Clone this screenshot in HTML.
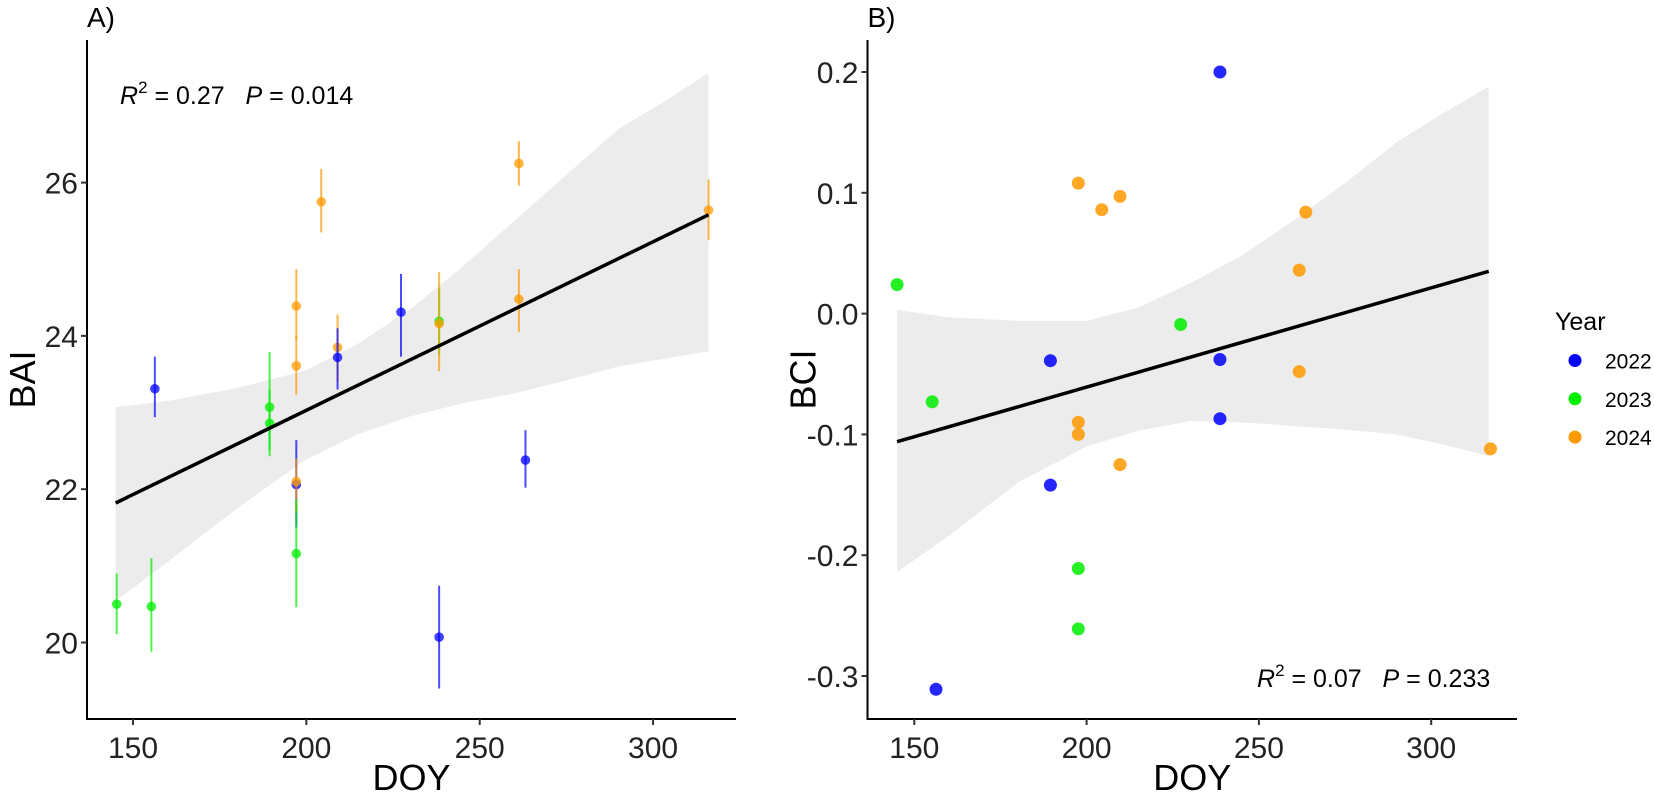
<!DOCTYPE html>
<html><head><meta charset="utf-8"><style>
body{margin:0;background:#fff;}
svg{display:block;font-family:"Liberation Sans",Arial,sans-serif;}
</style></head><body>
<svg id="chart" width="1654" height="795" viewBox="0 0 1654 795"></svg>
<script>
// Panel A data
const aDoy = [145.3,155.3,156.3,189.4,189.4,197.1,197.1,197.1,197.1,197.1,204.3,209,209,227.3,238.3,238.3,238.3,261.3,261.3,263.2,316];
const aBai = [20.50,20.47,23.31,23.07,22.86,24.39,23.61,22.06,22.10,21.16,25.75,23.85,23.72,24.31,24.19,24.16,20.07,26.25,24.48,22.38,25.64];
const aLo  = [20.11,19.88,22.94,22.50,22.43,23.95,23.23,21.50,21.70,20.46,25.35,23.40,23.30,23.73,23.75,23.54,19.40,25.96,24.05,22.02,25.25];
const aHi  = [20.90,21.10,23.73,23.79,23.30,24.87,24.00,22.64,22.40,21.87,26.18,24.28,24.10,24.81,24.62,24.83,20.74,26.54,24.87,22.77,26.04];
const aYear = [2023,2023,2022,2023,2023,2024,2024,2022,2024,2023,2024,2024,2022,2022,2023,2024,2022,2024,2024,2022,2024];
const aFitX = [145,316];
const aFitY = [21.82,25.58];
const aBandX = [145,160,180,200,215,230,245,260,275,290,303,316];
const aBandHi = [23.07,23.15,23.32,23.55,23.9,24.35,24.9,25.5,26.1,26.7,27.05,27.43];
const aBandLo = [20.54,21.05,21.75,22.39,22.72,22.95,23.12,23.25,23.42,23.60,23.70,23.80];
const aYTicks = [20,22,24,26];
const xTicks = [150,200,250,300];
// Panel B data
const bDoy = [145,155.2,156.3,189.5,189.5,197.6,204.4,209.7,197.6,197.6,209.7,197.6,197.6,227.3,238.7,238.7,238.7,261.7,261.7,263.6,317.2];
const bBci = [0.024,-0.073,-0.311,-0.039,-0.142,0.108,0.086,0.097,-0.090,-0.100,-0.125,-0.211,-0.261,-0.009,0.200,-0.038,-0.087,0.036,-0.048,0.084,-0.112];
const bYear = [2023,2023,2022,2022,2022,2024,2024,2024,2024,2024,2024,2023,2023,2023,2022,2022,2022,2024,2024,2024,2024];
const bFitX = [145,316.7];
const bFitY = [-0.106,0.035];
const bBandX = [145,160,180,200,215,230,245,260,275,290,303,316.7];
const bBandHi = [0.003,-0.003,-0.006,-0.006,0.005,0.025,0.048,0.077,0.108,0.142,0.165,0.188];
const bBandLo = [-0.214,-0.184,-0.140,-0.110,-0.097,-0.089,-0.090,-0.093,-0.096,-0.100,-0.108,-0.118];
const bYTicks = [-0.3,-0.2,-0.1,0.0,0.1,0.2];
const years = [2022,2023,2024];
const colors = {2022:'#0000ff',2023:'#00ee00',2024:'#ff9900'};

const NS='http://www.w3.org/2000/svg';
const svg=document.getElementById('chart');
function mk(tag,attrs,parent){const e=document.createElementNS(NS,tag);for(const k in attrs)e.setAttribute(k,attrs[k]);(parent||svg).appendChild(e);return e;}

const axA = x=>133+(x-150)*3.467;
const ayA = v=>642.5-(v-20)*76.65;
const axB = x=>914.3+(x-150)*3.446;
const ayB = v=>72+(0.2-v)*1208;

function band(gx,gy,X,H,L,name){
  let d='M'+X.map((x,i)=>gx(x)+','+gy(H[i])).join(' L');
  for(let i=X.length-1;i>=0;i--) d+=' L'+gx(X[i])+','+gy(L[i]);
  const p=mk('path',{d:d+'Z',fill:'#ebebeb','fill-opacity':'0.95',stroke:'none'});
  
  
}
function fit(gx,gy,X,Y,name){
  const l=mk('line',{x1:gx(X[0]),y1:gy(Y[0]),x2:gx(X[1]),y2:gy(Y[1]),stroke:'#000','stroke-width':3.5});
  
  
}
function axes(x0,x1,yTop,yBot,gx,gy,yt,fmt,label,ylab,panel){
  const g=mk('g',{});
  
  
  mk('line',{x1:x0,y1:yTop,x2:x0,y2:yBot+1,stroke:'#000','stroke-width':2},g);
  mk('line',{x1:x0-1,y1:yBot,x2:x1,y2:yBot,stroke:'#000','stroke-width':2},g);
  xTicks.forEach(t=>{
    mk('line',{x1:gx(t),y1:yBot,x2:gx(t),y2:yBot+6,stroke:'#333','stroke-width':2},g);
    const tx=mk('text',{x:gx(t),y:yBot+39,'text-anchor':'middle','font-size':30,fill:'#222'},g);
    tx.textContent=t;
    
    
  });
  yt.forEach(t=>{
    mk('line',{x1:x0-6,y1:gy(t),x2:x0,y2:gy(t),stroke:'#333','stroke-width':2},g);
    const tx=mk('text',{x:x0-9,y:gy(t)+11,'text-anchor':'end','font-size':30,fill:'#222'},g);
    tx.textContent=fmt(t);
    
    
  });
  const xl=mk('text',{x:(x0+x1)/2,y:790,'text-anchor':'middle','font-size':36,fill:'#000'},g);
  xl.textContent='DOY';
  
  
  const yl=mk('text',{x:0,y:0,'text-anchor':'middle','font-size':36,fill:'#000',transform:`translate(${x0-52},${(yTop+yBot)/2}) rotate(-90)`},g);
  yl.textContent=ylab;
  
  
  const pl=mk('text',{x:x0,y:27,'font-size':28,fill:'#000'},g);
  pl.textContent=label;
  
  
}

// Panel A
band(axA,ayA,aBandX,aBandHi,aBandLo,'confidence-band-a');
aDoy.forEach((x,i)=>{
  const c=colors[aYear[i]];
  const l=mk('line',{x1:axA(x),y1:ayA(aLo[i]),x2:axA(x),y2:ayA(aHi[i]),stroke:c,'stroke-width':2,'stroke-opacity':0.7});
  
  
  const p=mk('circle',{cx:axA(x),cy:ayA(aBai[i]),r:4.8,fill:c,'fill-opacity':0.75});
  
  
});
fit(axA,ayA,aFitX,aFitY,'regression-line-a');
axes(87,736,40,719,axA,ayA,aYTicks,t=>t,'A)','BAI','panel-a');
const annA=mk('text',{x:120,y:104,'font-size':25,fill:'#000'});
annA.innerHTML='<tspan font-style="italic">R</tspan><tspan dy="-11" font-size="17">2</tspan><tspan dy="11">\u00a0=\u00a00.27\u00a0\u00a0\u00a0</tspan><tspan font-style="italic">P</tspan><tspan>\u00a0=\u00a00.014</tspan>';



// Panel B
band(axB,ayB,bBandX,bBandHi,bBandLo,'confidence-band-b');
bDoy.forEach((x,i)=>{
  const p=mk('circle',{cx:axB(x),cy:ayB(bBci[i]),r:6.5,fill:colors[bYear[i]],'fill-opacity':0.85});
  
  
});
fit(axB,ayB,bFitX,bFitY,'regression-line-b');
axes(867.5,1517,40,719,axB,ayB,bYTicks,t=>t.toFixed(1),'B)','BCI','panel-b');
const annB=mk('text',{x:1257,y:687,'font-size':25,fill:'#000'});
annB.innerHTML='<tspan font-style="italic">R</tspan><tspan dy="-11" font-size="17">2</tspan><tspan dy="11">\u00a0=\u00a00.07\u00a0\u00a0\u00a0</tspan><tspan font-style="italic">P</tspan><tspan>\u00a0=\u00a00.233</tspan>';



// Legend
const lg=mk('g',{});


const lt=mk('text',{x:1555,y:330,'font-size':25,fill:'#000'},lg);
lt.textContent='Year';


years.forEach((y,i)=>{
  const cy=360.5+i*38.3;
  const d=mk('circle',{cx:1575,cy:cy,r:6.5,fill:colors[y]},lg);
  
  
  const t=mk('text',{x:1605,y:cy+8,'font-size':21,fill:'#000'},lg);
  t.textContent=y;
  
  
});
</script>
</body></html>
